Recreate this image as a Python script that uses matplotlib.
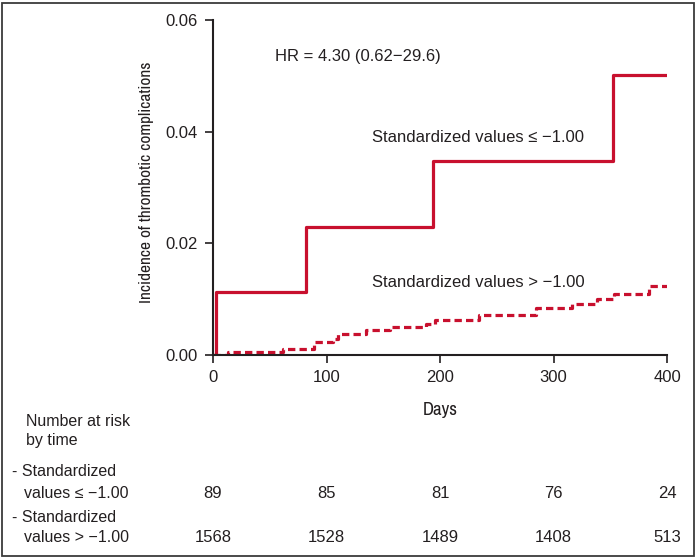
import matplotlib.pyplot as plt
import matplotlib.font_manager as fm
from matplotlib.patches import Rectangle

# step data (day of step, cumulative incidence after step)
low_days = [0, 3, 82, 194, 352, 400]
low_inc = [0.0, 0.0113, 0.0229, 0.0348, 0.0502, 0.0502]

high_days = [0, 13, 62, 89, 106, 110, 135, 156, 188, 196, 234, 285, 316, 338, 353, 384, 400]
high_inc = [0.0, 0.0005, 0.0010, 0.0023, 0.0028, 0.0037, 0.0044, 0.0050, 0.0056,
            0.0063, 0.0071, 0.0084, 0.0091, 0.0100, 0.0109, 0.0124, 0.0124]

risk_days = [0, 100, 200, 300, 400]
risk_low = [89, 85, 81, 76, 24]
risk_high = [1568, 1528, 1489, 1408, 513]

red = '#c8102e'
txt = '#231f20'

# condensed face for the axis titles
names = {f.name for f in fm.fontManager.ttflist}
narrow_family = 'DejaVu Sans'
for n in ['Archivo Narrow', 'Roboto Condensed', 'Liberation Sans Narrow', 'Asap Condensed']:
    if n in names:
        narrow_family = n
        break

plt.rcParams['font.family'] = ['Liberation Sans', 'DejaVu Sans']

fig = plt.figure(figsize=(6.96, 5.57), dpi=100)
ax = fig.add_axes([213/696, 1-355/557, 454/696, 335/557])

ax.step(low_days, low_inc, where='post', color=red, lw=2.3)
ax.step(high_days, high_inc, where='post', color=red, lw=2.3, ls=(0, (2.3, 1.3)))

ax.set_xlim(0, 400)
ax.set_ylim(0, 0.06)
ax.set_xticks(risk_days)
ax.set_yticks([0, 0.02, 0.04, 0.06])
ax.set_yticklabels(['0.00', '0.02', '0.04', '0.06'])
ax.tick_params(direction='out', length=6, width=1.2, labelsize=12, colors=txt, pad=5)
for s in ['top', 'right']:
    ax.spines[s].set_visible(False)
for s in ['left', 'bottom']:
    ax.spines[s].set_linewidth(1.5)
    ax.spines[s].set_color(txt)
    ax.spines[s].set_clip_on(False)

ax.set_xlabel('Days', family=narrow_family, fontsize=13.5, color=txt, labelpad=12)
ax.set_ylabel('Incidence of thrombotic complications', family=narrow_family,
              fontsize=12.5, color=txt)
ax.yaxis.set_label_coords(-0.13, 0.515)

ax.text(55, 0.0534, 'HR = 4.30 (0.62\u221229.6)', fontsize=12, color=txt, va='center')
ax.text(140, 0.0390, 'Standardized values \u2264 \u22121.00', fontsize=12, color=txt, va='center')
ax.text(140, 0.0129, 'Standardized values > \u22121.00', fontsize=12, color=txt, va='center')

# number at risk table
def fy(p):
    return 1 - p/557

fig.text(26/696, fy(422), 'Number at risk', fontsize=11.5, color=txt, va='center')
fig.text(26/696, fy(441), 'by time', fontsize=11.5, color=txt, va='center')
fig.text(12/696, fy(472), '- Standardized', fontsize=11.5, color=txt, va='center')
fig.text(24/696, fy(493), 'values \u2264 \u22121.00', fontsize=11.5, color=txt, va='center')
fig.text(12/696, fy(517), '- Standardized', fontsize=11.5, color=txt, va='center')
fig.text(24/696, fy(537), 'values > \u22121.00', fontsize=11.5, color=txt, va='center')

for d, a, b in zip(risk_days, risk_low, risk_high):
    xf = fig.transFigure.inverted().transform(ax.transData.transform((d, 0)))[0]
    fig.text(xf, fy(493), str(a), fontsize=12, color=txt, ha='center', va='center')
    fig.text(xf, fy(537), str(b), fontsize=12, color=txt, ha='center', va='center')

fig.patches.append(Rectangle((1.5/696, 1.5/557), 692/696, 553/557, transform=fig.transFigure,
                             fill=False, edgecolor='#3a3a3a', lw=1.3))

fig.savefig('out.png', dpi=100)
